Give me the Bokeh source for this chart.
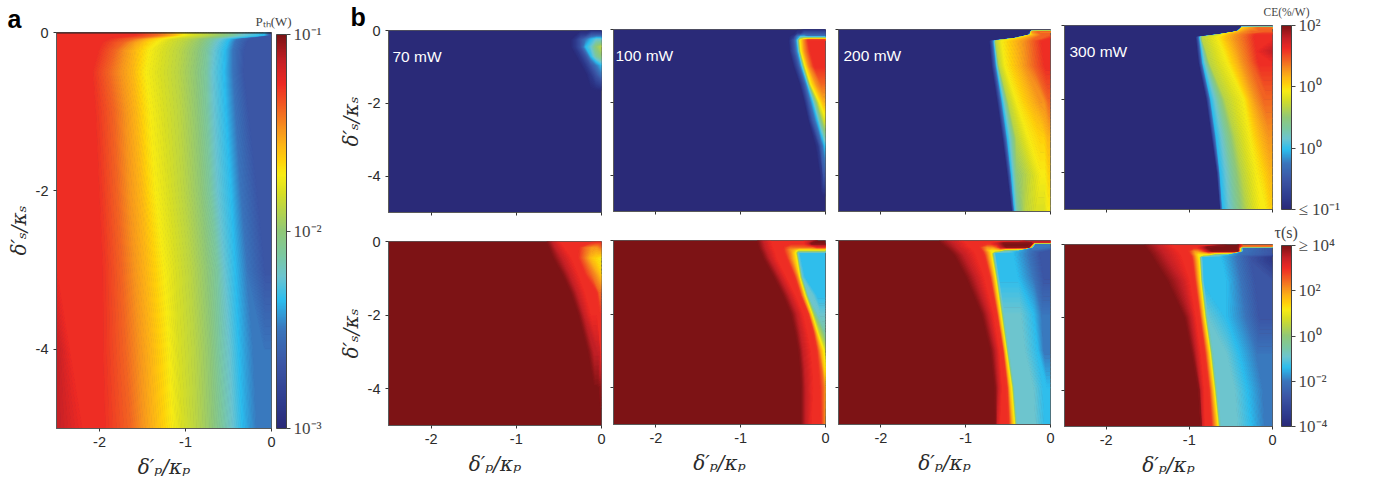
import numpy as np
from bokeh.embed import file_html
from bokeh.resources import INLINE
from bokeh.layouts import row, column
from bokeh.models import ColorBar, FixedTicker, Label, LinearColorMapper, Range1d, Span, Title
from bokeh.plotting import figure

# colour scale: one character per level, position along the colour bar, colour
LEVEL_CHARS = "0123456789ABCDEFGH"
LEVEL_POS = [0, .06, .16, .25, .325, .385, .44, .50, .56, .60, .645, .68, .72, .76, .81, .875, .935, 1]
LEVEL_COLORS = ["#2A2A78", "#2E3A8C", "#3B55A5", "#3A75BC", "#2BBDEE", "#6CC5D0", "#7CC8A0", "#90C878", "#BBD544",
                "#D9DF23", "#F8EC14", "#FFD20A", "#FDB515", "#F7941D", "#F26522", "#EE2A24", "#C42026", "#7D1315"]

X_TICKS = [-2, -1, 0]
Y_TICKS = [0, -2, -4]
POWERS = ["70 mW", "100 mW", "200 mW", "300 mW"]

# Each map is read as rows: the y of the row, the colour level at each knot of the row, and the x of each knot
# between the frame's left edge (-2.5) and right edge (0).
PTH_Y = [0, -.03, -.07, -.12, -.22, -.5, -1, -2, -3, -4, -5]
PTH_LV = ["FFFEDCBA987654322"] * 9 + ["GFFEDCBA987654333", "GFFEDCBA987654333"]
PTH_X = [[-2.4, -1.6, -1.33, -1.21, -1.13, -1.08, -1.02, -.9, -.75, -.55, -.43, -.32, -.09, -.05, -.02],
         [-2.4, -1.6, -1.33, -1.21, -1.13, -1.08, -1.02, -.9, -.75, -.55, -.43, -.32, -.09, -.05, -.02],
         [-2.45, -1.9, -1.6, -1.5, -1.42, -1.35, -1.25, -1.13, -.95, -.78, -.68, -.58, -.48, -.4, -.24],
         [-2.45, -1.99, -1.72, -1.62, -1.52, -1.44, -1.33, -1.21, -1.02, -.82, -.72, -.63, -.51, -.43, -.28],
         [-2.45, -2.03, -1.82, -1.71, -1.6, -1.51, -1.42, -1.26, -1.07, -.86, -.75, -.67, -.54, -.45, -.31],
         [-2.45, -2.1, -1.89, -1.75, -1.62, -1.54, -1.46, -1.29, -1.09, -.88, -.76, -.69, -.55, -.45, -.32],
         [-2.45, -2.07, -1.83, -1.7, -1.58, -1.5, -1.41, -1.25, -1.06, -.86, -.75, -.67, -.53, -.42, -.26],
         [-2.45, -2.03, -1.79, -1.66, -1.52, -1.44, -1.35, -1.19, -1.02, -.82, -.71, -.63, -.47, -.36, -.16],
         [-2.45, -1.99, -1.74, -1.6, -1.46, -1.35, -1.25, -1.11, -.94, -.75, -.63, -.55, -.42, -.28, -.07],
         [-2.35, -1.99, -1.7, -1.54, -1.4, -1.29, -1.19, -1.08, -.9, -.71, -.61, -.49, -.38, -.2, -.08],
         [-2.2, -1.97, -1.64, -1.5, -1.37, -1.25, -1.15, -1.04, -.88, -.69, -.57, -.45, -.34, -.16, -.06]]

CE70_Y = [0, -.12, -.25, -.45, -.7, -.95, -1.2, -1.65, -5]
CE70_LV = ["00000000", "00011222", "00123455", "00124578", "00012467", "00001234", "00000123", "00000000", "00000000"]
CE70_X = [[-.36, -.3, -.24, -.18, -.12, -.06]] * 9

CE100_Y = [0, -.12, -.2, -.3, -.6, -1, -1.5, -2, -2.5, -3.2, -4, -4.6, -5]
CE100_LV = ["00000000", "00011222", "00134433", "0024ADFF", "0024ADFF", "0024ADFF", "0024ADEE", "0024ABCC", "00247899",
            "00123344", "00112222", "00000000", "00000000"]
CE100_X = [[-.43, -.37, -.33, -.295, -.255, -.2], [-.43, -.37, -.33, -.295, -.255, -.2],
           [-.43, -.37, -.33, -.295, -.255, -.2], [-.43, -.37, -.33, -.295, -.255, -.2],
           [-.42, -.36, -.315, -.283, -.244, -.177], [-.374, -.315, -.276, -.236, -.197, -.13],
           [-.3, -.248, -.209, -.169, -.106, -.05], [-.244, -.197, -.146, -.067, -.045, -.02],
           [-.197, -.15, -.09, -.04, -.02, -.01], [-.118, -.08, -.055, -.03, -.02, -.01],
           [-.06, -.04, -.03, -.02, -.015, -.01], [-.06, -.05, -.04, -.03, -.02, -.01],
           [-.06, -.05, -.04, -.03, -.02, -.01]]

CE200_Y = [0, -.04, -.06, -.15, -.25, -.32, -1, -2, -3, -4, -5]
CE200_LV = ["00000000000", "00000000000", "00000CDEEEE", "00248BCDEEE", "00248BCDEEF", "00248ACDEFF", "00248ACDEFF",
            "00248ACDDEE", "00248ABBCCC", "002479AABBB", "00246899AAA"]
CE200_X = [[-.26, -.25, -.24, -.235, -.22, -.21, -.15, -.1, -.05],
           [-.26, -.25, -.24, -.235, -.22, -.21, -.15, -.1, -.05],
           [-.26, -.25, -.24, -.235, -.22, -.21, -.15, -.1, -.05],
           [-.26, -.25, -.24, -.235, -.225, -.2, -.15, -.1, -.05],
           [-.44, -.43, -.42, -.41, -.38, -.33, -.26, -.18, -.1],
           [-.717, -.685, -.66, -.64, -.57, -.41, -.315, -.217, -.1],
           [-.689, -.657, -.63, -.6, -.53, -.374, -.295, -.197, -.06],
           [-.622, -.59, -.56, -.49, -.394, -.217, -.118, -.07, -.02],
           [-.56, -.53, -.5, -.394, -.256, -.118, -.07, -.03, -.015],
           [-.504, -.476, -.453, -.394, -.2, -.118, -.06, -.02, -.01],
           [-.449, -.433, -.417, -.386, -.295, -.177, -.08, -.03, -.015]]

CE300_Y = [0, -.03, -.07, -.17, -.25, -.32, -.4, -.7, -1, -2, -3, -4, -5]
CE300_LV = ["00000000000", "00000000000", "00000BCDEEE", "0024CDEEEEE", "00248ACDEFF", "00248ACDEFF", "00248ACDEFF",
            "00248ACDEFG", "00248ACDEFF", "00248ACDEEE", "00248ACDDDD", "00248ABCCCC", "00248AABBBB"]
CE300_X = [[-.39, -.385, -.38, -.378, -.37, -.32, -.26, -.18, -.1],
           [-.39, -.385, -.38, -.378, -.37, -.32, -.26, -.18, -.1],
           [-.39, -.385, -.38, -.378, -.37, -.32, -.26, -.18, -.1],
           [-.44, -.43, -.425, -.41, -.35, -.25, -.15, -.1, -.05],
           [-.65, -.635, -.625, -.615, -.6, -.52, -.44, -.32, -.2],
           [-.92, -.89, -.87, -.84, -.66, -.53, -.45, -.33, -.21],
           [-.912, -.888, -.864, -.836, -.644, -.524, -.444, -.324, -.204],
           [-.9, -.872, -.848, -.79, -.59, -.47, -.4, -.295, -.185],
           [-.884, -.856, -.832, -.752, -.544, -.424, -.364, -.264, -.164],
           [-.792, -.764, -.736, -.564, -.344, -.264, -.204, -.104, -.06],
           [-.728, -.704, -.672, -.444, -.272, -.144, -.044, -.03, -.015],
           [-.664, -.644, -.624, -.364, -.192, -.1, -.024, -.015, -.008],
           [-.624, -.612, -.592, -.304, -.144, -.08, -.024, -.015, -.008]]

TAU70_Y = [0, -.15, -.45, -.9, -1.4, -2, -3, -4, -4.6, -5]
TAU70_LV = ["HHGFFFFFF", "HHGFFEDDE", "HHGFFECBA", "HHGFFEDCB", "HHGFFFEEE", "HHGFFFFFF", "HHGGGFFFF", "HHHHHHHGG",
            "HHHHHHHHH", "HHHHHHHHH"]
TAU70_X = [[-.65, -.58, -.5, -.2, -.1, -.05, -.02], [-.62, -.55, -.45, -.27, -.2, -.12, -.05],
           [-.57, -.47, -.36, -.28, -.22, -.14, -.08], [-.46, -.38, -.28, -.2, -.13, -.07, -.03],
           [-.36, -.29, -.2, -.1, -.06, -.03, -.02], [-.27, -.21, -.13, -.06, -.04, -.02, -.01],
           [-.16, -.09, -.05, -.03, -.02, -.012, -.006], [-.1, -.08, -.06, -.05, -.04, -.02, -.01],
           [-.1, -.08, -.06, -.05, -.04, -.02, -.01], [-.1, -.08, -.06, -.05, -.04, -.02, -.01]]

TAU100_Y = [0, -.08, -.17, -.24, -.33, -.5, -1, -1.5, -2, -2.5, -3, -3.5, -4, -5]
TAU100_LV = ["HHGFFFFFGHHH", "HHGFFFFFGHHH", "HHGFFEEEEEFF", "HHGFFDCAAAAA", "HHGFFDA54444", "HHGFFDA54444",
             "HHGFFDA54444", "HHGFFDA55444", "HHGFFDA75555", "HHGFFDA87666", "HHGFFDBA9999", "HHGFFECBBBBA",
             "HHGFFEDCCCCC", "HHGFFEDDDDDD"]
TAU100_X = [[-.81, -.74, -.65, -.5, -.4, -.3, -.25, -.15, -.08, -.04], [-.8, -.73, -.64, -.5, -.4, -.3, -.25, -.2, -.16, -.08],
            [-.79, -.72, -.63, -.5, -.42, -.36, -.3, -.2, -.15, -.1], [-.78, -.71, -.62, -.5, -.42, -.37, -.33, -.3, -.2, -.1],
            [-.76, -.69, -.6, -.49, -.41, -.36, -.33, -.3, -.2, -.1], [-.73, -.66, -.58, -.46, -.4, -.345, -.32, -.29, -.2, -.1],
            [-.61, -.54, -.47, -.37, -.33, -.31, -.28, -.24, -.15, -.08], [-.5, -.43, -.36, -.3, -.27, -.245, -.21, -.15, -.1, -.05],
            [-.41, -.34, -.27, -.21, -.19, -.165, -.14, -.1, -.06, -.03], [-.36, -.3, -.22, -.15, -.125, -.1, -.075, -.04, -.02, -.01],
            [-.32, -.27, -.18, -.11, -.07, -.04, -.02, -.01, -.006, -.003], [-.3, -.25, -.16, -.09, -.05, -.03, -.02, -.015, -.01, -.005],
            [-.29, -.24, -.15, -.07, -.03, -.01, -.005, -.004, -.003, -.002], [-.29, -.24, -.17, -.06, -.03, -.01, -.008, -.006, -.004, -.002]]

TAU200_Y = [0, -.03, -.08, -.17, -.26, -.33, -.4, -1, -2, -3, -4, -5]
TAU200_LV = ["HHGFFFFFFFGGG", "HHGFFFFFFFGGG", "HHGFFFFGHHH33", "HHGFFDDEGHH33",
             "HHGFFCAAA6432", "HHGFFCA644322", "HHGFFCA644322", "HHGFFCA644322", "HHGFFCA655433", "HHGFFCA655433",
             "HHGFFCA655444", "HHGFFCA655444"]
TAU200_X = [[-1.32, -1.18, -1.03, -.85, -.75, -.65, -.55, -.45, -.35, -.3, -.2], [-1.32, -1.18, -1.03, -.85, -.75, -.65, -.55, -.45, -.35, -.3, -.2],
            [-1.3, -1.15, -1, -.85, -.75, -.7, -.62, -.55, -.4, -.22, -.18], [-1.25, -1.12, -.98, -.85, -.75, -.68, -.64, -.58, -.52, -.26, -.21],
            [-1.2, -1.08, -.92, -.82, -.75, -.71, -.65, -.6, -.55, -.4, -.25], [-1.17, -1.05, -.9, -.8, -.73, -.7, -.68, -.65, -.43, -.25, -.12],
            [-1.14, -1.02, -.886, -.787, -.724, -.7, -.677, -.65, -.43, -.256, -.118], [-1, -.89, -.79, -.72, -.675, -.654, -.635, -.61, -.38, -.2, -.08],
            [-.815, -.74, -.68, -.64, -.61, -.59, -.57, -.55, -.35, -.2, -.1], [-.709, -.65, -.61, -.57, -.545, -.528, -.51, -.49, -.3, -.15, -.08],
            [-.66, -.62, -.58, -.52, -.49, -.465, -.445, -.43, -.2, -.08, -.04], [-.65, -.645, -.6, -.5, -.455, -.43, -.41, -.39, -.18, -.06, -.03]]

TAU300_Y = [0, -.03, -.08, -.17, -.26, -.33, -.45, -1, -2, -3, -4, -5]
TAU300_LV = ["HHGFFFFFGHHEE", "HHGFFFFFGHHEE", "HHGFFFFGHHH32", "HHGFFDDEGHH32", "HHGFFCAAA6432", "HHGFFCA644321",
             "HHGFFCA644321", "HHGFFCA644322", "HHGFFCA654322", "HHGFFCA655433", "HHGFFCA655433", "HHGFFCA655433"]
TAU300_X = [[-1.55, -1.38, -1.2, -1.05, -.95, -.87, -.75, -.65, -.55, -.42, -.36], [-1.55, -1.38, -1.2, -1.05, -.95, -.87, -.75, -.65, -.55, -.42, -.36],
            [-1.53, -1.36, -1.2, -1.05, -.95, -.9, -.84, -.78, -.6, -.42, -.37], [-1.5, -1.33, -1.15, -1.02, -.94, -.9, -.85, -.78, -.72, -.42, -.36],
            [-1.47, -1.3, -1.12, -1, -.93, -.89, -.82, -.75, -.68, -.55, -.4], [-1.45, -1.28, -1.1, -.98, -.92, -.89, -.875, -.85, -.62, -.43, -.26],
            [-1.42, -1.25, -1.08, -.97, -.91, -.884, -.87, -.84, -.6, -.42, -.25], [-1.27, -1.1, -1, -.94, -.89, -.87, -.855, -.83, -.55, -.38, -.2],
            [-1.06, -.98, -.93, -.88, -.84, -.82, -.8, -.78, -.55, -.32, -.15], [-.97, -.92, -.87, -.82, -.775, -.755, -.735, -.71, -.55, -.4, -.18],
            [-.89, -.87, -.83, -.77, -.725, -.705, -.685, -.665, -.45, -.3, -.1], [-.86, -.855, -.82, -.74, -.68, -.66, -.64, -.62, -.42, -.25, -.08]]

PTH_BAR_POS, PTH_BAR_TXT = [0, .5, 1], ["10⁻³", "10⁻²", "10⁻¹"]
CE_BAR_POS, CE_BAR_TXT = [0, 1/3, 2/3, 1], ["≤ 10⁻¹", "10⁰", "10⁰", "10²"]
TAU_BAR_POS, TAU_BAR_TXT = [0, .25, .5, .75, 1], ["10⁻⁴", "10⁻²", "10⁰", "10²", "≥ 10⁴"]

BANDS = 120
SANS, SERIF = "Liberation Sans", "Liberation Serif"
INK, EDGE = "#2b2b2b", "#5a5a5a"

pos_map = dict(zip(LEVEL_CHARS, LEVEL_POS))
stops = np.array([[int(c[i:i + 2], 16) for i in (1, 3, 5)] for c in LEVEL_COLORS], float)


def colour_at(t):
    return "#%02x%02x%02x" % tuple(int(round(np.interp(t, LEVEL_POS, stops[:, k]))) for k in range(3))


palette = [colour_at(g) for g in np.linspace(0, 1, 256)]
mapper = LinearColorMapper(palette=palette, low=0, high=1)
contour_levels = np.linspace(-0.001, 1.001, BANDS + 1)
band_fill = [colour_at((a + b) / 2) for a, b in zip(contour_levels[:-1], contour_levels[1:])]
band_fill[0], band_fill[-1] = LEVEL_COLORS[0], LEVEL_COLORS[-1]
band_line = [colour_at(v) for v in contour_levels]


def panel(ys, levels, xs, bg, box, show_x, show_y):
    """box = left border, frame width, right border, top border, frame height, bottom border"""
    lb, fw, rb, tb, fh, bb = box
    p = figure(frame_width=fw, frame_height=fh, min_border_left=lb, min_border_right=rb, min_border_top=tb,
               min_border_bottom=bb, x_range=Range1d(-2.5, 0), y_range=Range1d(-5, 0),
               output_backend="svg", toolbar_location=None, tools="")
    p.grid.visible = False
    p.background_fill_color = bg
    p.border_fill_color = "white"
    p.outline_line_color = EDGE
    p.outline_line_width = 1
    mesh_x = np.array([[-2.5] + list(r) + [0] for r in xs], dtype=float)[::-1]
    mesh_y = np.tile(np.array(ys, dtype=float)[::-1][:, None], (1, mesh_x.shape[1]))
    z = np.array([[pos_map[c] for c in r] for r in levels], dtype=float)[::-1]
    p.contour(mesh_x, mesh_y, z, contour_levels, fill_color=band_fill, line_color=band_line, line_width=1.2)
    for ax, ticks in ((p.xaxis[0], X_TICKS), (p.yaxis[0], Y_TICKS)):
        ax.ticker = FixedTicker(ticks=ticks)
        ax.major_tick_in = 0
        ax.major_tick_out = 3
        ax.minor_tick_line_color = None
        ax.axis_line_color = EDGE
        ax.major_tick_line_color = "#333333"
        ax.major_label_text_font = SANS
        ax.major_label_text_font_size = "14.5px"
        ax.major_label_text_color = INK
    p.xaxis.major_label_standoff = 5
    p.yaxis.major_label_standoff = 5
    if show_x:
        p.xaxis.major_label_overrides = {t: str(t) for t in X_TICKS}
        p.xaxis.axis_label = "δ′ₚ/κₚ"
        p.xaxis.axis_label_text_font = "DejaVu Serif"
        p.xaxis.axis_label_text_font_style = "italic"
        p.xaxis.axis_label_text_font_size = "20px"
        p.xaxis.axis_label_text_color = INK
        p.xaxis.axis_label_standoff = 5
    else:
        p.xaxis.major_label_overrides = {t: "" for t in X_TICKS}
    if show_y:
        p.yaxis.major_label_overrides = {t: str(t) for t in Y_TICKS}
        p.yaxis.axis_label = "δ′ₛ/κₛ"
        p.yaxis.axis_label_text_font = "DejaVu Serif"
        p.yaxis.axis_label_text_font_style = "italic"
        p.yaxis.axis_label_text_font_size = "20px"
        p.yaxis.axis_label_text_color = INK
        p.yaxis.axis_label_standoff = 2
    else:
        p.yaxis.major_label_overrides = {t: "" for t in Y_TICKS}
    return p


def power_label(p, text, x_off, y_off):
    p.add_layout(Label(x=x_off, y=y_off, x_units="screen", y_units="screen", text=text, text_font=SANS,
                       text_font_size="15.5px", text_color="white", text_baseline="alphabetic"))


def side_label(p, text, x_off, y_off, size):
    # in the right-hand side panel, so that it is not clipped to the frame
    p.add_layout(Label(x=x_off, y=y_off, x_units="screen", y_units="screen", text=text, text_font=SERIF,
                       text_font_size=f"{size}px", text_color="#444444", text_baseline="alphabetic"), "right")


def letter(p, text, off):
    p.title = Title(text=text, align="left", offset=off, standoff=0, text_font=SANS, text_font_size="25px",
                    text_font_style="bold", text_color="black")


def bar(p, x_off, height, ticks, labels):
    cb = ColorBar(color_mapper=mapper, ticker=FixedTicker(ticks=ticks),
                  major_label_overrides=dict(zip(ticks, labels)),
                  location=(x_off, 0), width=10, height=height, padding=0, margin=0,
                  major_tick_in=0, major_tick_out=4, major_tick_line_color="#444444",
                  bar_line_color="#444444", bar_line_width=1, background_fill_color=None, border_line_color=None,
                  major_label_text_font=SERIF, major_label_text_font_size="17px", major_label_text_color="#444444",
                  label_standoff=3)
    p.add_layout(cb, "center")


BG_TOP, BG_BOT = LEVEL_COLORS[0], LEVEL_COLORS[-1]
pa = panel(PTH_Y, PTH_LV, PTH_X, BG_TOP, (56, 215, 59, 32, 396, 52), True, True)
pa.add_layout(Span(location=0, dimension="width", line_color="#222222", line_width=2))
bar(pa, 220, 394, PTH_BAR_POS, PTH_BAR_TXT)
letter(pa, "a", -49)
side_label(pa, "Pₜₕ(W)", -16, 407, 13)

t70 = panel(CE70_Y, CE70_LV, CE70_X, BG_TOP, (58, 213, 6, 29, 182, 21), False, True)
b70 = panel(TAU70_Y, TAU70_LV, TAU70_X, BG_BOT, (58, 213, 6, 8, 184, 52), True, True)
t100 = panel(CE100_Y, CE100_LV, CE100_X, BG_TOP, (6, 212, 7, 29, 182, 21), False, False)
b100 = panel(TAU100_Y, TAU100_LV, TAU100_X, BG_BOT, (6, 212, 7, 8, 184, 52), True, False)
t200 = panel(CE200_Y, CE200_LV, CE200_X, BG_TOP, (6, 212, 7, 29, 182, 21), False, False)
b200 = panel(TAU200_Y, TAU200_LV, TAU200_X, BG_BOT, (6, 212, 7, 8, 184, 52), True, False)
t300 = panel(CE300_Y, CE300_LV, CE300_X, BG_TOP, (7, 208, 100, 25, 184, 9), False, False)
b300 = panel(TAU300_Y, TAU300_LV, TAU300_X, BG_BOT, (7, 208, 100, 26, 182, 50), True, False)

letter(t70, "b", -38)
for p, txt, x_off, y_off in ((t70, POWERS[0], 4, 156), (t100, POWERS[1], 2, 156), (t200, POWERS[2], 5, 156),
                             (t300, POWERS[3], 5, 158)):
    power_label(p, txt, x_off, y_off)

bar(t300, 217, 184, CE_BAR_POS, CE_BAR_TXT)
bar(b300, 217, 181, TAU_BAR_POS, TAU_BAR_TXT)
side_label(t300, "CE(%/W)", -9, 198, 11.5)
side_label(b300, "τ(s)", 2, 194, 16)

page = row(pa, column(t70, b70, spacing=0), column(t100, b100, spacing=0), column(t200, b200, spacing=0),
           column(t300, b300, spacing=0), spacing=0)
open("out.html", "w").write(file_html(page, INLINE))
